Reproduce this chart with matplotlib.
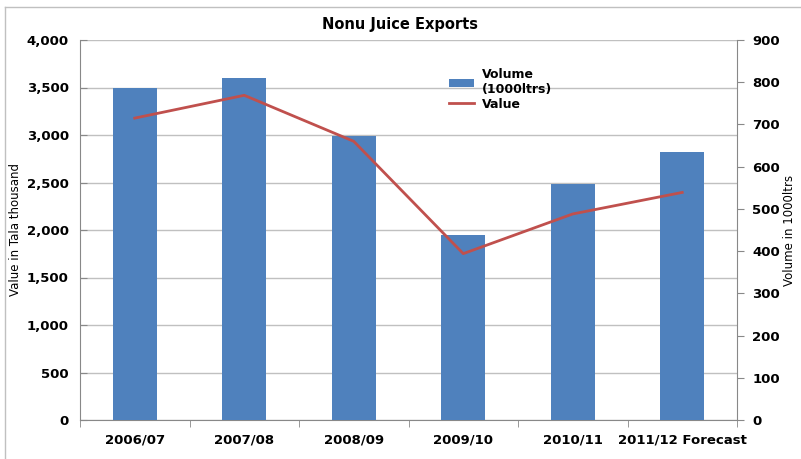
import matplotlib.pyplot as plt
from matplotlib.ticker import FuncFormatter
from matplotlib.lines import Line2D

years = ['2006/07', '2007/08', '2008/09', '2009/10', '2010/11', '2011/12 Forecast']
volume = [3500, 3600, 2990, 1950, 2485, 2820]
value = [715, 769, 660, 394, 488, 539]

plt.rcParams['font.family'] = ['DejaVu Sans']

fig = plt.figure(figsize=(8.01, 4.59), dpi=100)
ax = fig.add_axes([80 / 801, 1 - 420 / 459, 657 / 801, 380 / 459])
ax2 = ax.twinx()

x = range(len(years))
bars = ax.bar(x, volume, width=0.4, color='#4f81bd', zorder=3)
line, = ax2.plot(x, value, color='#c0504d', lw=2, zorder=4)

ax.set_xlim(-0.5, len(years) - 0.5)
ax.set_ylim(0, 4000)
ax.set_yticks(range(0, 4001, 500))
ax.yaxis.set_major_formatter(FuncFormatter(lambda v, p: f'{int(v):,}'))
ax2.set_ylim(0, 900)
ax2.set_yticks(range(0, 901, 100))

ax.grid(axis='y', color='#c0c0c0', lw=1, zorder=0)
ax.set_axisbelow(True)
ax.set_xticks([i - 0.5 for i in range(len(years) + 1)], minor=True)
ax.set_xticks(list(x))
ax.set_xticklabels(years)
ax.tick_params(axis='x', which='major', length=0, pad=10)
ax.tick_params(axis='x', which='minor', length=5, color='#888888')
ax.tick_params(axis='y', length=5, color='#888888', direction='in', pad=8)
ax2.tick_params(axis='y', length=5, color='#888888', direction='out', pad=6)

for a in (ax, ax2):
    for s in a.spines.values():
        s.set_visible(False)
ax.spines['left'].set_visible(True)
ax.spines['bottom'].set_visible(True)
ax2.spines['right'].set_visible(True)
for s in (ax.spines['left'], ax.spines['bottom'], ax2.spines['right']):
    s.set_color('#888888')

for lab in ax.get_xticklabels() + ax.get_yticklabels() + ax2.get_yticklabels():
    lab.set_fontweight('bold')
    lab.set_fontsize(9.5)

ax.set_ylabel('Value in Tala thousand', fontsize=8.5)
ax.yaxis.set_label_coords(-58 / 657, 0.5)
ax2.set_ylabel('Volume in 1000ltrs', fontsize=8.5)
ax2.yaxis.set_label_coords(1 + 46 / 657, 0.5)

fig.text(400 / 801, 1 - 24 / 459, 'Nonu Juice Exports', ha='center', va='center',
         fontsize=10.5, fontweight='bold')

handles = [bars, Line2D([], [], color='#c0504d', lw=2)]
leg = ax.legend(handles, ['Volume\n(1000ltrs)', 'Value'], loc='upper left',
                bbox_to_anchor=(0.545, 0.955), frameon=False, handlelength=2,
                handletextpad=0.6, labelspacing=0.1,
                prop={'weight': 'bold', 'size': 9})

fig.add_artist(Line2D([5 / 801, 5 / 801], [1 - 7 / 459, 0], color='#c0c0c0', lw=1))
fig.add_artist(Line2D([5 / 801, 1], [1 - 7 / 459, 1 - 7 / 459], color='#c0c0c0', lw=1))

fig.savefig('out.png', dpi=100)
